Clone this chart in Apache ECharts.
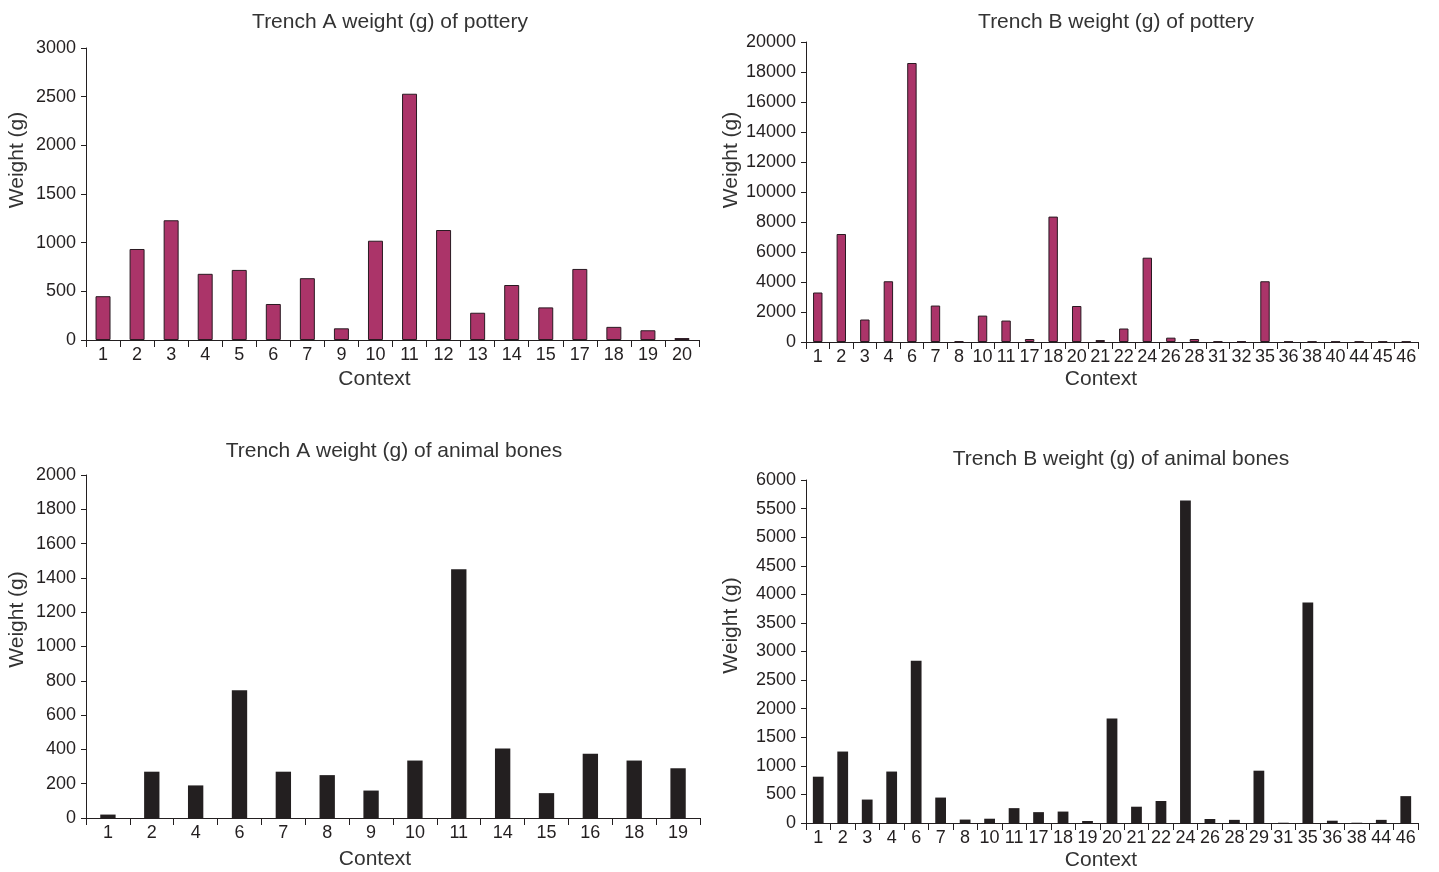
<!DOCTYPE html>
<html>
<head>
<meta charset="utf-8">
<script src="https://cdn.jsdelivr.net/npm/echarts@6/dist/echarts.min.js"></script>
<style>
html,body{margin:0;padding:0;background:#fff;}
#chart{width:1439px;height:872px;}
</style>
</head>
<body>
<div id="chart"></div>
<script>
// ---- data ----
const titles = [
  'Trench A weight (g) of pottery',
  'Trench B weight (g) of pottery',
  'Trench A weight (g) of animal bones',
  'Trench B weight (g) of animal bones'
];
const xName = 'Context';
const yName = 'Weight (g)';

const potteryACats = ['1','2','3','4','5','6','7','9','10','11','12','13','14','15','17','18','19','20'];
const potteryAVals = [450,935,1230,680,720,370,635,120,1020,2530,1130,280,565,335,730,135,100,20];

const potteryBCats = ['1','2','3','4','6','7','8','10','11','17','18','20','21','22','24','26','28','31','32','35','36','38','40','44','45','46'];
const potteryBVals = [3300,7200,1500,4050,18600,2430,50,1760,1430,200,8360,2400,130,900,5620,290,200,40,40,4050,30,30,30,30,30,30];

const bonesACats = ['1','2','4','6','7','8','9','10','11','14','15','16','18','19'];
const bonesAVals = [20,270,190,745,270,250,160,335,1450,405,145,375,335,290];

const bonesBCats = ['1','2','3','4','6','7','8','10','11','17','18','19','20','21','22','24','26','28','29','31','35','36','38','44','46'];
const bonesBVals = [810,1250,410,900,2840,445,60,75,260,190,200,35,1830,285,385,5640,70,55,915,5,3855,40,5,55,470];

const yMax = [3000, 20000, 2000, 6000];
const yStep = [500, 2000, 200, 500];

// ---- layout / style ----
const FONT = '"Liberation Sans", Arial, sans-serif';
const INK = '#231f20';
const POT = '#ab3469';
const BONE = '#231f20';

const grids = [
  {left: 86, top: 48, width: 613, height: 292},
  {left: 806, top: 42, width: 612, height: 300},
  {left: 86, top: 475, width: 614, height: 343},
  {left: 806, top: 480, width: 612, height: 343}
].map(g => Object.assign({outerBoundsMode: 'none', containLabel: false}, g));
const titlePos = [[385, 7], [1111, 7], [389, 436], [1116, 444]];
const yNameGap = [58, 60, 58, 64];
const yNameShift = [68, 64, 54, 52];
const xNameShift = [36, 22, 36, 22];
const gaps = ['56%', '60%', '65%', '56%'];
const cats = [potteryACats, potteryBCats, bonesACats, bonesBCats];
const vals = [potteryAVals, potteryBVals, bonesAVals, bonesBVals];
const colors = [POT, POT, BONE, BONE];
const xNameGap = [29, 27, 31, 27];

const option = {
  animation: false,
  backgroundColor: '#fff',
  title: titles.map((t, i) => ({
    text: t, left: titlePos[i][0], top: titlePos[i][1], textAlign: 'center',
    textStyle: {fontFamily: FONT, fontSize: 21, fontWeight: 'normal', color: '#333'}
  })),
  grid: grids,
  xAxis: cats.map((c, i) => ({
    type: 'category', gridIndex: i, data: c,
    name: xName, nameLocation: 'middle', nameGap: xNameGap[i],
    nameTextStyle: {fontFamily: FONT, fontSize: 21, color: '#333', padding: [0, xNameShift[i], 0, 0]},
    axisLine: {lineStyle: {color: INK, width: 1}},
    axisTick: {show: true, length: 7, inside: false, lineStyle: {color: INK}},
    axisLabel: {fontFamily: FONT, fontSize: 18, color: INK, margin: 6, interval: 0},
    splitLine: {show: false}
  })),
  yAxis: yMax.map((m, i) => ({
    type: 'value', gridIndex: i, min: 0, max: m, interval: yStep[i],
    name: yName, nameLocation: 'middle', nameGap: yNameGap[i], nameRotate: 90,
    nameTextStyle: {fontFamily: FONT, fontSize: 21, color: '#333', padding: [0, 0, 0, yNameShift[i]]},
    axisLine: {show: true, lineStyle: {color: INK, width: 1}},
    axisTick: {show: true, length: 5, lineStyle: {color: INK}},
    axisLabel: {fontFamily: FONT, fontSize: 18, color: INK, margin: 10, formatter: v => String(v)},
    splitLine: {show: false}
  })),
  series: vals.map((v, i) => ({
    type: 'bar', xAxisIndex: i, yAxisIndex: i, data: v,
    barCategoryGap: gaps[i],
    itemStyle: {color: colors[i], borderColor: i < 2 ? '#2a1a22' : BONE, borderWidth: i < 2 ? 1 : 0}
  }))
};

const chart = echarts.init(document.getElementById('chart'), null, {renderer: 'canvas'});
chart.setOption(option);
</script>
</body>
</html>
